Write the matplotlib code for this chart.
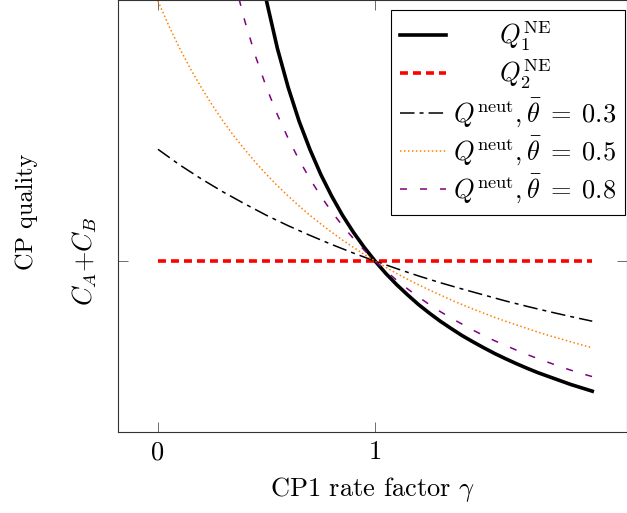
import matplotlib
matplotlib.use('Agg')
import matplotlib.pyplot as plt

plt.rcParams['font.family'] = 'serif'
plt.rcParams['font.serif'] = ['cmr10', 'DejaVu Serif']
plt.rcParams['mathtext.fontset'] = 'cm'
plt.rcParams['axes.formatter.use_mathtext'] = True

# values, y in units of C_A + C_B
gamma_q1 = [0.45, 0.5, 0.55, 0.6, 0.65, 0.7, 0.75, 0.8, 0.85, 0.9, 0.95, 1.0,
            1.05, 1.1, 1.15, 1.2, 1.25, 1.3, 1.35, 1.4, 1.45, 1.5,
            1.55, 1.6, 1.65, 1.7, 1.75, 1.8, 1.85, 1.9, 1.95, 2.0]
q1_ne = [2.222, 2.0, 1.818, 1.667, 1.538, 1.429, 1.333, 1.25, 1.176, 1.111, 1.053, 1.0,
         0.952, 0.909, 0.87, 0.833, 0.8, 0.769, 0.741, 0.714, 0.69, 0.667,
         0.645, 0.625, 0.606, 0.588, 0.571, 0.556, 0.541, 0.526, 0.513, 0.5]

gamma_q2 = [0.0, 2.0]
q2_ne = [1.0, 1.0]

gamma_03 = [0.0, 0.1, 0.2, 0.3, 0.4, 0.5, 0.6, 0.7, 0.8, 0.9, 1.0,
            1.1, 1.2, 1.3, 1.4, 1.5, 1.6, 1.7, 1.8, 1.9, 2.0]
q_neut_03 = [1.43, 1.37, 1.316, 1.266, 1.22, 1.176, 1.136, 1.099, 1.064, 1.031, 1.0,
             0.971, 0.943, 0.917, 0.893, 0.87, 0.847, 0.826, 0.806, 0.787, 0.769]

gamma_05 = [0.0, 0.05, 0.1, 0.15, 0.2, 0.25, 0.3, 0.35, 0.4, 0.45, 0.5,
            0.55, 0.6, 0.65, 0.7, 0.75, 0.8, 0.85, 0.9, 0.95, 1.0,
            1.05, 1.1, 1.15, 1.2, 1.25, 1.3, 1.35, 1.4, 1.45, 1.5,
            1.55, 1.6, 1.65, 1.7, 1.75, 1.8, 1.85, 1.9, 1.95, 2.0]
q_neut_05 = [2.0, 1.905, 1.818, 1.739, 1.667, 1.6, 1.538, 1.481, 1.429, 1.379, 1.333,
             1.29, 1.25, 1.212, 1.176, 1.143, 1.111, 1.081, 1.053, 1.026, 1.0,
             0.976, 0.952, 0.93, 0.909, 0.889, 0.87, 0.851, 0.833, 0.816, 0.8,
             0.784, 0.769, 0.755, 0.741, 0.727, 0.714, 0.702, 0.69, 0.678, 0.667]

gamma_08 = [0.3, 0.35, 0.4, 0.45, 0.5, 0.55, 0.6, 0.65, 0.7, 0.75, 0.8, 0.85, 0.9, 0.95, 1.0,
            1.05, 1.1, 1.15, 1.2, 1.25, 1.3, 1.35, 1.4, 1.45, 1.5,
            1.55, 1.6, 1.65, 1.7, 1.75, 1.8, 1.85, 1.9, 1.95, 2.0]
q_neut_08 = [2.273, 2.083, 1.923, 1.786, 1.667, 1.563, 1.471, 1.389, 1.316, 1.25, 1.19, 1.136, 1.087, 1.042, 1.0,
             0.962, 0.926, 0.893, 0.862, 0.833, 0.806, 0.781, 0.758, 0.735, 0.714,
             0.694, 0.676, 0.658, 0.641, 0.625, 0.61, 0.595, 0.581, 0.568, 0.556]

fig = plt.figure(figsize=(6.27, 5.13), dpi=100)
ax = fig.add_axes([118 / 627, 1 - 432 / 513, 1 - 118 / 627, 432 / 513])

ax.plot(gamma_q1, q1_ne, color='black', lw=2.6, label=r'$\qquad Q_1^{\mathrm{NE}}$')
ax.plot(gamma_q2, q2_ne, color='red', lw=2.6, dashes=(2.2, 1.4),
        label=r'$\qquad Q_2^{\mathrm{NE}}$')
ax.plot(gamma_03, q_neut_03, color='black', lw=1.1, dashes=(9.5, 3.3, 2.6, 3.3),
        label=r'$Q^{\mathrm{neut}}, \bar{\theta} \;=\; 0.3$')
ax.plot(gamma_05, q_neut_05, color=(1.0, 0.5, 0.0), lw=1.1, dashes=(1, 1.6),
        label=r'$Q^{\mathrm{neut}}, \bar{\theta} \;=\; 0.5$')
ax.plot(gamma_08, q_neut_08, color=(0.5, 0.0, 0.5), lw=1.1, dashes=(4.6, 8.5),
        label=r'$Q^{\mathrm{neut}}, \bar{\theta} \;=\; 0.8$')

ax.set_xlim(-0.184, 2.16)
ax.set_ylim(0.343, 2.004)

ax.set_xticks([0, 1])
ax.set_xticklabels(['0', '1'])
ax.set_yticks([1.0])
ax.set_yticklabels([r'$C_A$+$C_B$'], rotation=90, va='center')
ax.tick_params(direction='in', length=7, width=0.6, top=True, right=True,
               labelsize=19, color='#555555')
ax.tick_params(axis='x', pad=6)
ax.tick_params(axis='y', pad=14)

ax.set_xlabel(r'CP1 rate factor $\gamma$', fontsize=19, labelpad=8)
ax.set_ylabel('CP quality', fontsize=17.5)
ax.yaxis.set_label_coords(-0.158, 0.51)

for s in ax.spines.values():
    s.set_linewidth(0.8)
    s.set_color('#333333')

leg = ax.legend(loc='upper right', bbox_to_anchor=(625 / 627, 1 - 10 / 432),
                borderaxespad=0, fontsize=19, handlelength=1.75, fancybox=False,
                framealpha=1, edgecolor='black', labelspacing=0.2,
                handletextpad=0.25, borderpad=0.35)
leg.get_frame().set_linewidth(0.8)

fig.savefig('out.png', dpi=100)
